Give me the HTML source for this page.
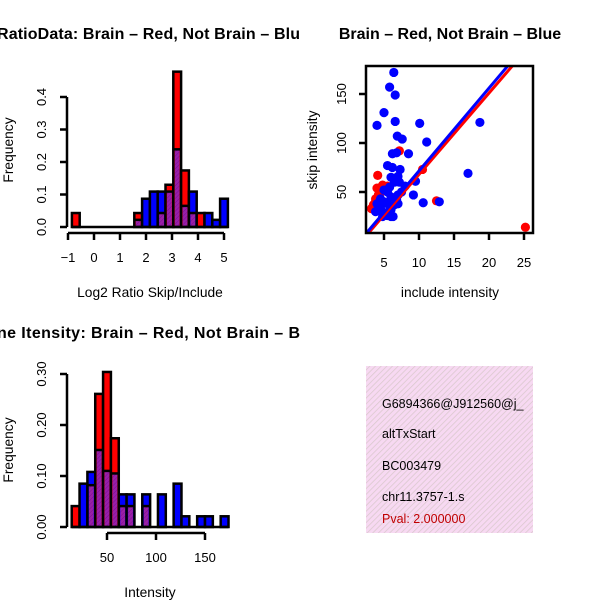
<!DOCTYPE html>
<html><head><meta charset="utf-8">
<style>
html,body{margin:0;padding:0;background:#fff;}
svg{display:block;font-family:"Liberation Sans",sans-serif;}
</style></head>
<body>
<svg id="s" width="600" height="600" viewBox="0 0 600 600">
<defs>
<pattern id="hatch" width="4" height="4" patternUnits="userSpaceOnUse" patternTransform="rotate(45)">
<rect width="4" height="4" fill="#f7d9f2"/><line x1="0" y1="0" x2="0" y2="4" stroke="#d9c8cc" stroke-width="1.5"/>
</pattern>
<pattern id="purp" width="3" height="3" patternUnits="userSpaceOnUse" patternTransform="rotate(45)">
<rect width="3" height="3" fill="#9a1fa8"/><line x1="0" y1="0" x2="0" y2="3" stroke="#7a1090" stroke-width="1"/>
</pattern>
<clipPath id="scClip"><rect x="366" y="66" width="167" height="167"/></clipPath>
<clipPath id="lgClip"><rect x="366" y="366" width="167" height="167"/></clipPath>
</defs>
<text x="-3" y="39" font-size="16" font-weight="bold" textLength="303" lengthAdjust="spacing">RatioData: Brain – Red, Not Brain – Blu</text>
<text x="450" y="39" font-size="16" font-weight="bold" text-anchor="middle">Brain – Red, Not Brain – Blue</text>
<text x="-3" y="338" font-size="16" font-weight="bold" textLength="303" lengthAdjust="spacing">ne Itensity: Brain – Red, Not Brain – B</text>
<text x="150" y="297" font-size="13.8" text-anchor="middle">Log2 Ratio Skip/Include</text>
<text transform="translate(13,150) rotate(-90)" font-size="13.8" text-anchor="middle">Frequency</text>
<text x="450" y="297" font-size="13.8" text-anchor="middle">include intensity</text>
<text transform="translate(317,150) rotate(-90)" font-size="13.8" text-anchor="middle">skip intensity</text>
<text x="150" y="597" font-size="13.8" text-anchor="middle">Intensity</text>
<text transform="translate(13,450) rotate(-90)" font-size="13.8" text-anchor="middle">Frequency</text>
<g>
<rect x="366" y="366" width="167" height="167" fill="url(#hatch)"/>
<g clip-path="url(#lgClip)" font-size="12.5">
<text x="382" y="408">G6894366@J912560@j_</text>
<text x="382" y="438">altTxStart</text>
<text x="382" y="470">BC003479</text>
<text x="382" y="501">chr11.3757-1.s</text>
<text x="382" y="523" fill="#c00000">Pval: 2.000000</text>
</g></g>
<g id="g1"></g>
<g id="g2"></g>
<g id="g3"></g>
</svg>
<script>
// Ratio histogram data
const ratioBinStart = -0.85, ratioBinWidth = 0.3;
const ratioRed  = [0.043,0,0,0,0,0,0,0,0.043,0,0,0.043,0.13,0.478,0.174,0.043,0.043,0,0,0];
const ratioBlue = [0,0,0,0,0,0,0,0,0.022,0.087,0.109,0.109,0.109,0.239,0.065,0.109,0,0.043,0.022,0.087];
const ratioXTicks = [-1,0,1,2,3,4,5];
const ratioYTicks = ["0.0","0.1","0.2","0.3","0.4"];
// Scatter data
const scXTicks = [5,10,15,20,25];
const scYTicks = [50,100,150];
const blueIncl = [4,5,5.8,6.4,6.6,6.9,6.6,7.6,6.2,6.8,8.5,5.5,6.2,7.3,10.1,11.1,18.7,17,12.9,10.6,9.2,9.5,8,7,6,6.5,5,5.5,6,7,5,5.5,6.5,7,4.5,5,5.5,6,6.3,4.8,6,7.5,4,4.5,5.8,6.8,3.8,7.2];
const blueSkip = [118,131,157,172,149,107,122,104,89,90,89,77,75,73,120,101,121,69,40,39,47,61,56,66,65,60,52,50,45,47,40,38,37,38,33,28,26,25,25,25,32,50,38,43,55,42,30,60];
const redIncl = [4.1,25.2,10.5,7.2,12.5,4.8,4.6,4.2,3.8,3.5,3.2,4,5.5,3.8];
const redSkip = [67,14,73,92,41,57,50,47,43,37,33,54,56,40];
const redFit = [-15,8.3];
const blueFit = [-13,8.45];
// Intensity histogram data
const intBinStart = 14, intBinWidth = 8;
const intRed  = [0.041,0,0.082,0.261,0.304,0.174,0.041,0.041,0,0.041,0,0,0,0,0,0,0,0,0,0];
const intBlue = [0,0.085,0.108,0.151,0.11,0.105,0.064,0.064,0,0.064,0,0.064,0,0.085,0.021,0,0.021,0.021,0,0.021];
const intXTicks = [50,100,150];
const intYTicks = ["0.00","0.10","0.20","0.30"];

const NS="http://www.w3.org/2000/svg";
function mk(tag,attrs,parent){const e=document.createElementNS(NS,tag);for(const k in attrs)e.setAttribute(k,attrs[k]);parent.appendChild(e);return e;}

function hist(g,start,w,red,blue,xs,ys,ysStep,xTicks,yTicks,axisY,yLabX,fmtX){
  const col=(i)=>start+i*w;
  red.forEach((r,i)=>{
    const b=blue[i]; if(!r&&!b)return;
    const x0=xs(col(i)),x1=xs(col(i+1)),m=Math.min(r,b),M=Math.max(r,b);
    const top=mk('rect',{x:x0,y:ys(M),width:x1-x0,height:ys(0)-ys(M),fill:r>=b?'#ff0000':'#0000ff',stroke:'none'},g);
    
    
    if(m>0){const o=mk('rect',{x:x0+1.5,y:ys(m),width:x1-x0-3,height:ys(0)-ys(m),fill:'url(#purp)'},g);
      
      
      mk('line',{x1:x0,x2:x1,y1:ys(m),y2:ys(m),stroke:'#000','stroke-width':2.5},g);}
    const ol=mk('rect',{x:x0,y:ys(M),width:x1-x0,height:ys(0)-ys(M),fill:'none',stroke:'#000','stroke-width':2.5},g);
    
    
  });
  mk('line',{x1:xs(start),x2:xs(col(red.length)),y1:ys(0),y2:ys(0),stroke:'#000','stroke-width':2.5},g);
  const xa=mk('g',{},g);
  
  
  mk('line',{x1:xs(xTicks[0]),x2:xs(xTicks[xTicks.length-1]),y1:axisY,y2:axisY,stroke:'#000','stroke-width':2.5},xa);
  xTicks.forEach(t=>{mk('line',{x1:xs(t),x2:xs(t),y1:axisY,y2:axisY+7,stroke:'#000','stroke-width':2.5},xa);
    const tx=mk('text',{x:xs(t),y:axisY+29,'font-size':13,'text-anchor':'middle'},xa);tx.textContent=fmtX(t);
    
    });
  const ya=mk('g',{},g);
  
  
  const X=67;
  mk('line',{x1:X,x2:X,y1:ys(0),y2:ys((yTicks.length-1)*ysStep),stroke:'#000','stroke-width':2.5},ya);
  yTicks.forEach((t,i)=>{const y=ys(i*ysStep);mk('line',{x1:X-7,x2:X,y1:y,y2:y,stroke:'#000','stroke-width':2.5},ya);
    const tx=mk('text',{transform:`translate(${yLabX},${y}) rotate(-90)`,'font-size':13,'text-anchor':'middle'},ya);tx.textContent=t;
    
    });
}
hist(document.getElementById('g1'),ratioBinStart,ratioBinWidth,ratioRed,ratioBlue,
  v=>68+(v+1)*26, v=>227-v*325, 0.1, ratioXTicks, ratioYTicks, 233, 46, t=>t<0?'\u2212'+(-t):''+t);
hist(document.getElementById('g3'),intBinStart,intBinWidth,intRed,intBlue,
  v=>58+v*0.98, v=>527-v*510, 0.1, intXTicks, intYTicks, 533, 46, t=>''+t);

(function(){
  const g=document.getElementById('g2');
  const xs=v=>349+v*7, ys=v=>241-v*0.98;
  const pts=mk('g',{'clip-path':'url(#scClip)'},g);
  redIncl.forEach((x,i)=>{const c=mk('circle',{cx:xs(x),cy:ys(redSkip[i]),r:4.6,fill:'#ff0000'},pts);
    
    });
  blueIncl.forEach((x,i)=>{const c=mk('circle',{cx:xs(x),cy:ys(blueSkip[i]),r:4.6,fill:'#0000ff'},pts);
    
    });
  [[redFit,'#ff0000','red-fit-line'],[blueFit,'#0000ff','blue-fit-line']].forEach(([f,c,n])=>{
    const l=mk('line',{x1:xs(0),y1:ys(f[0]),x2:xs(30),y2:ys(f[0]+f[1]*30),stroke:c,'stroke-width':3},pts);
    
    });
  const box=mk('rect',{x:366,y:66,width:167,height:167,fill:'none',stroke:'#000','stroke-width':2.5},g);
  
  
  scXTicks.forEach(t=>{mk('line',{x1:xs(t),x2:xs(t),y1:233,y2:240,stroke:'#000','stroke-width':2.5},g);
    const tx=mk('text',{x:xs(t),y:267,'font-size':13,'text-anchor':'middle'},g);tx.textContent=t;
    
    });
  scYTicks.forEach(t=>{const y=ys(t);mk('line',{x1:359,x2:366,y1:y,y2:y,stroke:'#000','stroke-width':2.5},g);
    const tx=mk('text',{transform:`translate(346,${y}) rotate(-90)`,'font-size':13,'text-anchor':'middle'},g);tx.textContent=t;
    
    });
})();
</script>
</body></html>
